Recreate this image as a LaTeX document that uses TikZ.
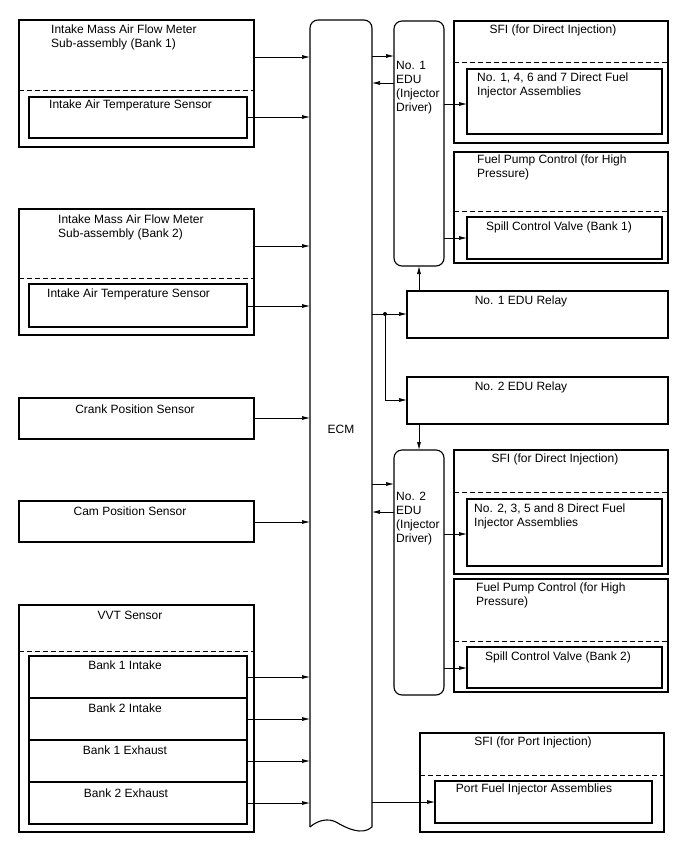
\documentclass[tikz,border=0pt]{standalone}
\usepackage{fontspec}
\setmainfont{Liberation Sans}
\usetikzlibrary{arrows.meta}
\newcommand\mkbox[6][box]{\node[#1,anchor=north west,minimum width={#4pt-#2pt},minimum height={#5pt-#3pt}] (#6) at (#2,#3) {};}
\begin{document}
\begin{tikzpicture}[x=1pt,y=-1pt,
  box/.style={draw,line width=1.1pt,inner sep=0,outer sep=0},
  rbox/.style={draw,line width=1.1pt,rounded corners=8pt,inner sep=0,outer sep=0},
  dline/.style={line width=0.8pt,dash pattern=on 5pt off 3pt},
  arr/.style={-{Latex[length=8pt,width=4pt]},line width=0.7pt},
  txt/.style={inner sep=0,font=\fontsize{12}{14}\selectfont},
  ]
\useasboundingbox (0,0) rectangle (688,852);
% ---------- left boxes ----------
\mkbox{19}{20}{254}{147}{maf1}
\mkbox{29}{97}{247}{138}{iat1}
\draw[dline] (maf1.west |- 0,90) -- (maf1.east |- 0,90);
\mkbox{19}{209}{254}{335}{maf2}
\mkbox{29}{284}{247}{327}{iat2}
\draw[dline] (maf2.west |- 0,278) -- (maf2.east |- 0,278);
\mkbox{19}{398}{254}{439}{crank}
\mkbox{19}{501}{254}{542}{cam}
\mkbox{19}{605}{254}{832}{vvt}
\draw[dline] (vvt.west |- 0,651) -- (vvt.east |- 0,651);
\mkbox{29}{656}{247}{698}{bai}
\mkbox{29}{698}{247}{740}{bbi}
\mkbox{29}{740}{247}{782}{bae}
\mkbox{29}{782}{247}{824}{bbe}
\node[txt,anchor=west,align=left] (t1) at (51,37) {Intake Mass Air Flow Meter\\Sub-assembly (Bank 1)};
\node[txt,anchor=west] (t2) at (49,105) {Intake Air Temperature Sensor};
\node[txt,anchor=west,align=left] (t3) at (58,227) {Intake Mass Air Flow Meter\\Sub-assembly (Bank 2)};
\node[txt,anchor=west] (t4) at (47,294) {Intake Air Temperature Sensor};
\node[txt] (t5) at (135,409) {Crank Position Sensor};
\node[txt] (t6) at (130,511) {Cam Position Sensor};
\node[txt] (t7) at (130,615) {VVT Sensor};
\node[txt] (t8) at (125,665) {Bank 1 Intake};
\node[txt] (t9) at (125,708) {Bank 2 Intake};
\node[txt] (t10) at (125,750) {Bank 1 Exhaust};
\node[txt] (t11) at (126,793) {Bank 2 Exhaust};
% ---------- ECM ----------
\node[inner sep=0,outer sep=0,minimum width=62pt,minimum height=807pt,anchor=north west] (ecm) at (310,20) {};
\draw[line width=1.1pt,rounded corners=8pt] (310,827) -- (310,20) -- (372,20) -- (372,827);
\draw[line width=1.1pt] (372,827) .. controls (362,836) and (346,828) .. (336,822) .. controls (328,818) and (318,820) .. (310,827);
\node[txt] (tecm) at (341,429) {ECM};
% ---------- EDUs ----------
\mkbox[rbox]{394}{21}{444}{266}{edu1}
\mkbox[rbox]{394}{450}{444}{695}{edu2}
\node[txt,anchor=west,align=left] (t12) at (396,88) {No. 1\\EDU\\(Injector\\Driver)};
\node[txt,anchor=west,align=left] (t13) at (396,518.5) {No. 2\\EDU\\(Injector\\Driver)};
% ---------- right boxes ----------
\mkbox{454}{21}{668}{143}{sfi1}
\mkbox{467}{69}{662}{134}{inj1}
\draw[dline] (sfi1.west |- 0,62) -- (sfi1.east |- 0,62);
\mkbox{454}{152}{668}{263}{fpc1}
\mkbox{467}{217}{662}{259}{scv1}
\draw[dline] (fpc1.west |- 0,211) -- (fpc1.east |- 0,211);
\mkbox{407}{291}{668}{338}{rel1}
\mkbox{407}{377}{668}{424}{rel2}
\mkbox{454}{450}{668}{574}{sfi2}
\mkbox{467}{499}{662}{566}{inj2}
\draw[dline] (sfi2.west |- 0,492) -- (sfi2.east |- 0,492);
\mkbox{454}{579}{668}{692}{fpc2}
\mkbox{467}{647}{662}{688}{scv2}
\draw[dline] (fpc2.west |- 0,641) -- (fpc2.east |- 0,641);
\mkbox{420}{733}{664}{832}{sfip}
\mkbox{435}{781}{652}{823}{pfi}
\draw[dline] (sfip.west |- 0,775) -- (sfip.east |- 0,775);
\node[txt] (t14) at (553,30) {SFI (for Direct Injection)};
\node[txt,anchor=west,align=left] (t15) at (477,85) {No. 1, 4, 6 and 7 Direct Fuel\\Injector Assemblies};
\node[txt,anchor=west,align=left] (t16) at (477,167.5) {Fuel Pump Control (for High\\Pressure)};
\node[txt] (t17) at (559,227) {Spill Control Valve (Bank 1)};
\node[txt] (t18) at (521,301) {No. 1 EDU Relay};
\node[txt] (t19) at (521,387) {No. 2 EDU Relay};
\node[txt] (t20) at (555,459) {SFI (for Direct Injection)};
\node[txt,anchor=west,align=left] (t21) at (474,516) {No. 2, 3, 5 and 8 Direct Fuel\\Injector Assemblies};
\node[txt,anchor=west,align=left] (t22) at (476,595.5) {Fuel Pump Control (for High\\Pressure)};
\node[txt] (t23) at (558,657) {Spill Control Valve (Bank 2)};
\node[txt] (t24) at (533,742) {SFI (for Port Injection)};
\node[txt] (t25) at (534,789) {Port Fuel Injector Assemblies};
% ---------- connectors: sensors to ECM ----------
\draw[arr] (maf1.east |- 0,57) -- (ecm.west |- 0,57);
\draw[arr] (iat1.east |- 0,117) -- (ecm.west |- 0,117);
\draw[arr] (maf2.east |- 0,246) -- (ecm.west |- 0,246);
\draw[arr] (iat2.east |- 0,306) -- (ecm.west |- 0,306);
\draw[arr] (crank.east |- 0,418) -- (ecm.west |- 0,418);
\draw[arr] (cam.east |- 0,522) -- (ecm.west |- 0,522);
\draw[arr] (bai.east |- 0,677) -- (ecm.west |- 0,677);
\draw[arr] (bbi.east |- 0,719) -- (ecm.west |- 0,719);
\draw[arr] (bae.east |- 0,761) -- (ecm.west |- 0,761);
\draw[arr] (bbe.east |- 0,803) -- (ecm.west |- 0,803);
% ---------- ECM / EDU ----------
\draw[arr] (ecm.east |- 0,56) -- (edu1.west |- 0,56);
\draw[arr] (edu1.west |- 0,83) -- (ecm.east |- 0,83);
\draw[arr] (edu1.east |- 0,104) -- (inj1.west |- 0,104);
\draw[arr] (edu1.east |- 0,238) -- (scv1.west |- 0,238);
\draw[arr] (ecm.east |- 0,484) -- (edu2.west |- 0,484);
\draw[arr] (edu2.west |- 0,512) -- (ecm.east |- 0,512);
\draw[arr] (edu2.east |- 0,534) -- (inj2.west |- 0,534);
\draw[arr] (edu2.east |- 0,668) -- (scv2.west |- 0,668);
% ---------- relays ----------
\coordinate (j) at (385,314);
\draw[arr] (ecm.east |- j) -- (rel1.west |- j);
\draw[arr] (j) -- (j |- 0,400) -- (rel2.west |- 0,400);
\fill (j) circle[radius=2pt];
\draw[arr] (rel1.north -| 419,0) -- (edu1.south -| 419,0);
\draw[arr] (rel2.south -| 419,0) -- (edu2.north -| 419,0);
% ---------- port injection ----------
\draw[arr] (ecm.east |- 0,802) -- (pfi.west |- 0,802);
\end{tikzpicture}
\end{document}
